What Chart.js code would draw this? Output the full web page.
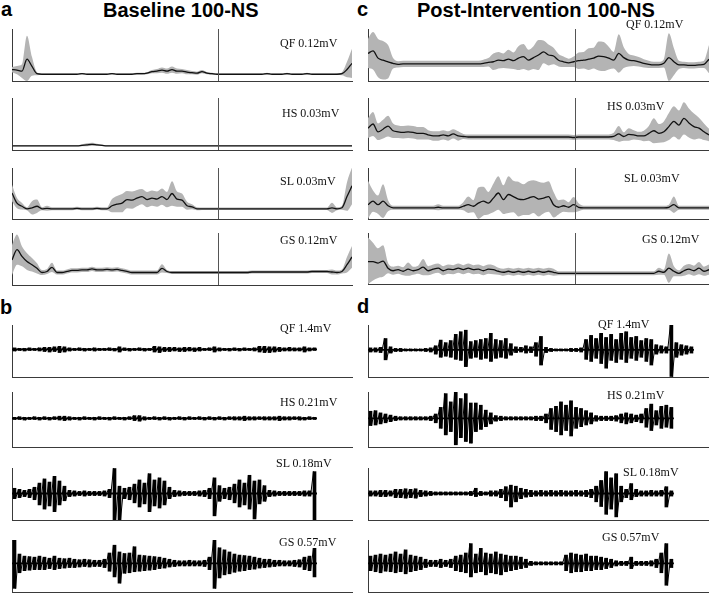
<!DOCTYPE html>
<html>
<head>
<meta charset="utf-8">
<script src="https://cdn.jsdelivr.net/npm/chart.js@4.4.1/dist/chart.umd.min.js"></script>
<style>
  html, body { margin: 0; padding: 0; background: #fff; }
  body { width: 709px; height: 593px; position: relative; overflow: hidden; }
  canvas { position: absolute; }
  .lbl { position: absolute; font-family: "Liberation Serif", "Times New Roman", serif; font-size: 12px; line-height: 12px; white-space: nowrap; color: #111; }
  .hd { position: absolute; font-family: "Liberation Sans", Arial, sans-serif; font-weight: bold; font-size: 20px; line-height: 20px; white-space: nowrap; color: #000; }
</style>
</head>
<body>
<div class="hd" style="left:1px;top:-1px">a</div>
<div class="hd" style="left:103px;top:0px">Baseline 100-NS</div>
<div class="hd" style="left:357px;top:-1px">c</div>
<div class="hd" style="left:417px;top:0px">Post-Intervention 100-NS</div>
<div class="hd" style="left:0px;top:297px">b</div>
<div class="hd" style="left:357px;top:296px">d</div>
<script>
// envelope panels (a = baseline, c = post-intervention), % of panel scale
const envLabels = ['QF 0.12mV', 'HS 0.03mV', 'SL 0.03mV', 'GS 0.12mV'];
const rawLabels = ['QF 1.4mV', 'HS 0.21mV', 'SL 0.18mV', 'GS 0.57mV'];
const splitAt = 41.2; // vertical marker on the envelope plots

const baseQfMean = [22,21,19,42,28,14,13,13,13,13, 13,13,13,13,14,13,13,13,13,13, 14,13,13,13,13,14,14,15,18,19, 21,19,22,19,19,17,16,15,18,15, 14,13,13,13,13,13,13,13,13,13, 13,14,13,13,13,14,13,13,13,14, 13,13,13,13,13,13,14,22,34];
const baseQfSd = [5,8,13,45,18,3,1,1,1,1, 1,1,1,1,1.5,1,1,1,1,1, 1.5,1,1,1,1.5,2,2,2,3,4, 5,5,6,5,4,4,3,3,3,2, 2,1.5,1,1,1,1,1,1,1,1, 1,2,1,1,1,2,1,1,1,2, 1,1,1,1,1,1.5,3,15,28];
const baseHsMean = [8,8,8,8,8,8,8,8,8,8, 8,8,8,8,9,10,11,10,9,8, 8,8,8,8,8,8,8,8,8,8, 8,8,8,8,8,8,8,8,8,8, 8,8,8,8,8,8,8,8,8,8, 8,8,8,8,8,8,8,8,8,8, 8,8,8,8,8,8,8,8,8];
const baseHsSd = [1,1,1,1,1,1,1,1,1,1, 1,1,1,1,2,3,3,2,1.5,1, 1,1,1,1,1,1,1,1,1,1, 1,1,1,1,1,1,1,1,1,1, 1,1,1,1,1,1,1,1,1,1, 1,1,1,1,1,1,1,1,1,1, 1,1,1,1,1,1,1,1,1];
const baseSlMean = [51,31,25,20,22,25,20,21,20,20, 20,20,20,21,20,20,20,21,20,20, 26,29,31,38,37,41,44,38,41,39, 44,38,50,39,37,26,24,20,20,20, 20,20,20,20,20,20,20,20,20,20, 20,20,20,20,20,20,20,20,20,20, 20,20,20,20,22,20,22,44,65];
const baseSlSd = [16,10,6.5,3,13,13,3,5,3,3, 3,3,3,3,3,3,3,3,3,3, 13,16,18,17,17,16,15,15,15,15, 16,15,24,15,13,8,5,3,2.5,2.5, 2.5,2.5,2.5,2.5,2.5,2.5,2.5,2.5,2.5,2.5, 2.5,2.5,2.5,2.5,2.5,2.5,2.5,2.5,2.5,2.5, 2.5,2.5,2.5,2.5,10,3,4,28,36];
const baseGsMean = [48,68,55,45,39,32,24,26,34,24, 24,26,28,28,29,29,31,29,29,30, 29,30,28,26,24,24,24,24,24,24, 32,26,24,24,24,24,24,24,24,24, 24,24,24,24,24,24,24,24,25,25, 25,25,25,25,25,25,25,25,25,25, 26,26,26,26,25,24,26,39,54];
const baseGsSd = [29,29,19,16,13,10,5,5,9,4, 4,4,4,4,4,4,4,4,4,4, 4,4,4,4,4,4,4,4,4,4, 8,3,3,3,3,3,3,3,3,3, 3,3,3,3,3,3,3,3,3,3, 3,3,3,3,3,3,3,3,3,3, 3,3,3,3,5,4,4,15,21];

const postQfMean = [53,58,44,40,37,34,32,33,33,33, 33,33,33,33,33,33,33,33,33,33, 33,33,33,34,36,37,40,39,42,39, 44,47,40,45,50,56,50,48,40,37, 35,37,39,40,42,44,48,47,44,40, 53,45,40,39,37,34,32,31,31,34, 45,37,31,31,30,30,31,32,42];
const postQfSd = [28,36,37,37,32,10,6,6,6,6, 6,6,6,6,6,6,6,6,6,6, 6,6,6,7,8,16,16,14,18,16, 23,24,20,22,29,22,20,16,12,10, 8,10,16,16,21,20,28,28,22,16, 37,20,12,10,9,8,7,6,6,8, 47,26,8,6,6,6,6,7,27];
const postHsMean = [42,50,35,40,46,37,35,34,35,34, 32,32,29,27,27,29,27,31,27,26, 25,25,25,25,25,25,25,25,25,25, 25,25,25,25,25,25,25,25,25,25, 25,24,25,25,25,25,25,25,25,26, 31,26,30,29,27,27,32,37,32,35, 45,55,48,61,52,45,42,35,29];
const postHsSd = [19,23,16,18,20,14,12,12,12,12, 12,12,9,9,9,9,9,9,9,5, 5,5,5,5,5,5,5,5,5,5, 5,5,5,5,5,5,5,5,5,5, 5,5,5,5,5,5,5,5,5,7, 15,8,12,9,8,10,14,24,18,20, 26,29,28,31,28,25,20,16,12];
const postSlMean = [28,35,28,35,26,22,22,22,22,22, 22,22,22,22,23,22,22,22,22,25, 28,25,31,35,31,41,51,38,48,44, 39,38,41,44,39,41,44,28,23,26, 23,28,23,22,22,22,22,22,22,22, 22,22,22,22,22,22,22,22,22,22, 23,28,22,22,22,22,22,22,22];
const postSlSd = [47,21,18,33,11,4,4,4,4,4, 4,4,4,4,6,4,4,4,4,8, 16,12,31,28,22,28,33,28,36,31, 34,30,33,32,34,30,30,25,14,12, 10,15,8,4,4,4,4,4,4,4, 4,4,4,4,4,4,4,4,4,4, 5,16,4,4,4,4,4,4,4];
const postGsMean = [44,44,41,45,31,26,28,25,29,26, 28,33,26,29,31,26,29,28,31,28, 31,28,29,26,29,28,25,23,25,23, 25,23,25,23,25,23,25,23,21,21, 21,21,21,21,21,21,21,21,21,21, 21,21,21,21,21,21,21,21,25,23, 31,25,21,26,29,26,31,25,28];
const postGsSd = [47,37,29,31,10,8,8,8,13,8, 8,16,9,9,9,9,9,9,9,9, 9,9,9,9,9,9,7,7,7,7, 7,7,7,7,7,7,7,7,4,4, 4,4,4,4,4,4,4,4,4,4, 4,4,4,4,4,4,4,4,7,5, 29,10,6,10,10,10,12,9,10];

// raw EMG panels (b = baseline, d = post-intervention): peak above / below the baseline per time bin
const rawBins = 68;
const rawBaseQfUp = [3,2,2,3,2,3,4,4,5,6, 5,3,2,3,2,2,3,2,2,3, 2,5,3,2,2,3,2,2,6,5, 4,4,4,3,4,4,3,4,2,3, 5,3,2,2,3,2,3,2,3,6, 6,5,5,4,3,4,3,3,5,3, 3];
const rawBaseQfDown = [3,2,3,2,2,3,4,5,4,6, 5,3,2,2,3,2,3,2,2,2, 3,5,2,3,2,2,3,2,5,6, 4,4,3,4,4,3,4,3,2,2, 5,3,2,3,2,3,2,2,3,5, 6,6,5,4,3,3,3,3,5,3, 2];
const rawBaseHsUp = [2,3,2,2,3,2,3,2,3,4, 4,3,2,2,3,2,2,3,2,2, 3,2,2,3,5,5,3,2,3,2, 3,2,2,3,2,3,2,3,2,3, 2,3,2,3,3,3,4,3,3,3, 3,3,3,4,3,3,3,3,2,3, 2];
const rawBaseHsDown = [2,2,3,2,2,3,2,3,2,3, 4,3,2,3,2,2,3,2,2,3, 2,2,3,2,4,5,3,2,2,3, 2,3,2,2,3,2,2,2,3,2, 3,2,3,2,3,3,4,3,3,2, 3,3,3,4,3,3,2,3,3,2, 2];
const rawBaseSlUp = [10,8,6,8,12,20,28,22,33,24, 14,6,5,4,5,4,4,4,5,8, 48,14,10,12,18,26,20,38,26,30, 24,12,6,5,4,4,4,5,6,10, 30,15,10,12,18,26,20,35,24,26, 15,6,5,4,4,4,4,4,5,5, 42];
const rawBaseSlDown = [10,8,6,8,12,22,30,24,35,22, 14,6,5,4,5,4,4,4,5,8, 51,51,10,12,18,26,20,35,24,28, 22,10,6,5,4,4,4,5,6,10, 43,15,10,12,18,26,22,30,49,20, 15,6,5,4,4,4,4,4,5,5, 51];
const rawBaseGsUp = [45,18,14,13,12,14,12,10,14,10, 9,10,8,7,8,7,6,6,8,20, 35,22,19,20,32,16,15,14,13,12, 10,8,6,5,5,6,5,5,6,12, 45,30,26,22,18,16,15,14,12,10, 8,8,6,6,5,5,6,7,12,14, 29];
const rawBaseGsDown = [48,18,14,13,12,12,12,10,12,10, 9,8,8,7,6,7,6,6,8,15, 26,38,19,18,16,15,14,13,12,10, 9,7,6,5,5,5,5,5,6,12, 48,28,22,20,17,15,14,12,11,9, 8,7,6,5,5,5,6,7,12,14, 26];

const rawPostQfUp = [4,4,5,22,6,3,3,2,2,2, 2,3,4,8,19,14,18,30,35,38, 16,18,20,22,32,20,18,22,12,6, 5,8,6,14,26,5,3,2,2,2, 3,3,4,20,28,22,32,24,30,20, 32,35,24,26,18,22,20,10,8,6, 48,14,10,8,6];
const rawPostQfDown = [4,4,5,19,6,3,3,2,2,2, 2,3,4,8,14,12,14,18,20,32, 16,14,18,16,22,16,14,16,10,5, 4,6,5,12,29,5,3,2,2,2, 3,3,4,18,22,16,26,35,20,24, 18,24,16,20,14,22,29,8,6,6, 51,14,10,8,6];
const rawPostHsUp = [13,14,10,8,6,4,3,3,3,3, 3,3,4,8,20,45,30,51,36,45, 28,28,24,15,10,5,4,3,3,3, 3,3,3,4,4,8,18,22,30,24, 32,20,18,14,10,5,4,4,4,5, 8,10,8,6,8,18,26,14,22,24, 20];
const rawPostHsDown = [13,12,10,8,6,4,3,3,3,3, 3,3,4,8,18,30,24,48,35,42, 45,24,20,15,10,5,4,3,3,3, 3,3,3,4,4,8,20,24,30,22, 32,18,15,12,10,5,4,4,4,5, 8,10,8,6,8,16,22,12,18,16, 18];
const rawPostSlUp = [5,5,6,6,5,8,8,9,8,9, 6,5,4,3,3,3,3,3,3,3, 4,10,4,3,5,5,8,13,16,14, 10,8,6,5,6,5,6,5,6,5, 5,6,5,6,8,14,25,42,30,38, 14,8,19,8,5,5,6,5,6,13, 5];
const rawPostSlDown = [5,5,6,6,5,8,8,9,8,9, 6,5,4,3,3,3,3,3,3,3, 4,6,4,3,5,5,8,14,26,16, 10,7,6,5,5,5,5,5,5,5, 5,5,5,6,8,16,25,40,30,45, 16,8,12,6,5,5,5,5,5,26, 5];
const rawPostGsUp = [14,16,18,16,18,22,18,26,16,14, 12,8,6,6,8,6,8,14,16,20, 38,18,29,20,18,22,18,16,14,14, 12,8,4,3,3,3,3,3,3,16, 20,18,16,18,14,14,12,10,8,5, 4,4,12,4,4,4,5,8,20,38, 8];
const rawPostGsDown = [14,16,18,15,16,18,16,20,16,14, 12,8,6,6,8,6,8,14,16,18, 26,18,16,22,18,20,22,16,14,12, 10,8,4,3,3,3,3,3,3,14, 18,16,16,14,14,12,12,10,8,5, 4,4,10,4,4,4,5,8,18,42, 8];

const axisColor = '#3a3a3a';
const bandColor = '#b4b4b4';

const splitLine = {
    id: 'splitLine',
    afterDatasetsDraw(chart) {
        const x = Math.round(chart.scales.x.getPixelForValue(splitAt)) + 0.5;
        const ctx = chart.ctx;
        ctx.save();
        ctx.strokeStyle = '#555';
        ctx.lineWidth = 1;
        ctx.beginPath();
        ctx.moveTo(x, chart.chartArea.top);
        ctx.lineTo(x, chart.chartArea.bottom);
        ctx.stroke();
        ctx.restore();
    }
};

const hiddenAxis = (extra) => Object.assign({
    display: true,
    grid: { display: false, drawTicks: false },
    ticks: { display: false },
    border: { display: true, color: axisColor, width: 1 }
}, extra);

const makeCanvas = (x, y, w, h) => {
    const c = document.createElement('canvas');
    const pad = 2;
    c.width = w + pad * 2;
    c.height = h + pad * 2;
    c.style.left = (x - pad) + 'px';
    c.style.top = (y - pad) + 'px';
    c.style.width = c.width + 'px';
    c.style.height = c.height + 'px';
    document.body.appendChild(c);
    return c;
};

const addLabel = (text, x, cy) => {
    const d = document.createElement('div');
    d.className = 'lbl';
    d.textContent = text;
    d.style.left = x + 'px';
    d.style.top = (cy - 6) + 'px';
    document.body.appendChild(d);
};

const commonOpts = {
    responsive: false,
    animation: false,
    layout: { padding: 2 },
    plugins: { legend: { display: false }, tooltip: { enabled: false } }
};

function envChart(p) {
    const pts = (arr) => arr.map((v, i) => ({ x: i, y: v }));
    const upper = p.mean.map((m, i) => m + p.sd[i]);
    const lower = p.mean.map((m, i) => Math.max(0, m - p.sd[i]));
    //first dataset is drawn on top, so the mean goes first
    new Chart(makeCanvas(p.x, p.y, p.w, p.h), {
        type: 'line',
        data: {
            datasets: [
                { data: pts(p.mean), borderColor: '#111', borderWidth: 1.3, pointRadius: 0, fill: false, cubicInterpolationMode: 'monotone' },
                { data: pts(upper), borderWidth: 0, borderColor: bandColor, pointRadius: 0, fill: '+1', backgroundColor: bandColor, cubicInterpolationMode: 'monotone' },
                { data: pts(lower), borderWidth: 0, borderColor: bandColor, pointRadius: 0, fill: false, cubicInterpolationMode: 'monotone' }
            ]
        },
        options: Object.assign({}, commonOpts, {
            scales: {
                x: hiddenAxis({ type: 'linear', min: 0, max: p.mean.length - 1 }),
                y: hiddenAxis({ min: 0, max: 100 })
            }
        }),
        plugins: [splitLine]
    });
    addLabel(p.label, p.lx, p.ly);
}

function rawChart(p) {
    //bins hold the positive and negative peaks; the trace joins them in time order
    const trace = [];
    p.up.forEach((u, i) => {
        trace.push({ x: i + 0.3, y: u });
        trace.push({ x: i + 0.7, y: -p.down[i] });
    });
    const bars = p.up.map((u, i) => ({ x: i + 0.5, y: [-p.down[i], u] }));
    new Chart(makeCanvas(p.x, p.y, p.w, p.h), {
        type: 'bar',
        data: {
            datasets: [
                { type: 'line', data: trace, borderColor: '#000', borderWidth: 1, pointRadius: 0, fill: false, tension: 0 },
                { type: 'line', data: [{ x: 0, y: 0 }, { x: p.up.length, y: 0 }], borderColor: '#000', borderWidth: 1.8, pointRadius: 0, fill: false },
                { type: 'bar', data: bars, backgroundColor: '#000', barThickness: 3, grouped: false }
            ]
        },
        options: Object.assign({}, commonOpts, {
            scales: {
                x: hiddenAxis({ type: 'linear', min: 0, max: rawBins, offset: false }),
                y: hiddenAxis({ min: p.top - 100, max: p.top })
            }
        })
    });
    addLabel(p.label, p.lx, p.ly);
}

// quadrant a
envChart({ x: 12, y: 29, w: 340, h: 52, mean: baseQfMean, sd: baseQfSd, label: envLabels[0], lx: 280, ly: 43 });
envChart({ x: 12, y: 98, w: 340, h: 52, mean: baseHsMean, sd: baseHsSd, label: envLabels[1], lx: 282, ly: 113 });
envChart({ x: 12, y: 168, w: 340, h: 51, mean: baseSlMean, sd: baseSlSd, label: envLabels[2], lx: 280, ly: 181 });
envChart({ x: 12, y: 233, w: 340, h: 52, mean: baseGsMean, sd: baseGsSd, label: envLabels[3], lx: 280, ly: 240 });
// quadrant c
envChart({ x: 368, y: 29, w: 341, h: 52, mean: postQfMean, sd: postQfSd, label: envLabels[0], lx: 626, ly: 24 });
envChart({ x: 368, y: 98, w: 341, h: 52, mean: postHsMean, sd: postHsSd, label: envLabels[1], lx: 607, ly: 106 });
envChart({ x: 368, y: 168, w: 341, h: 51, mean: postSlMean, sd: postSlSd, label: envLabels[2], lx: 624, ly: 178 });
envChart({ x: 368, y: 233, w: 341, h: 51, mean: postGsMean, sd: postGsSd, label: envLabels[3], lx: 642, ly: 239 });
// quadrant b
rawChart({ x: 12, y: 325, w: 340, h: 52, top: 47, up: rawBaseQfUp, down: rawBaseQfDown, label: rawLabels[0], lx: 280, ly: 328 });
rawChart({ x: 12, y: 392, w: 340, h: 55, top: 48, up: rawBaseHsUp, down: rawBaseHsDown, label: rawLabels[1], lx: 280, ly: 402 });
rawChart({ x: 12, y: 468, w: 340, h: 52, top: 49, up: rawBaseSlUp, down: rawBaseSlDown, label: rawLabels[2], lx: 276, ly: 463 });
rawChart({ x: 12, y: 540, w: 340, h: 52, top: 45, up: rawBaseGsUp, down: rawBaseGsDown, label: rawLabels[3], lx: 279, ly: 542 });
// quadrant d
rawChart({ x: 368, y: 325, w: 341, h: 52, top: 48, up: rawPostQfUp, down: rawPostQfDown, label: rawLabels[0], lx: 598, ly: 324 });
rawChart({ x: 368, y: 392, w: 341, h: 55, top: 48, up: rawPostHsUp, down: rawPostHsDown, label: rawLabels[1], lx: 607, ly: 395 });
rawChart({ x: 368, y: 468, w: 341, h: 52, top: 49, up: rawPostSlUp, down: rawPostSlDown, label: rawLabels[2], lx: 623, ly: 472 });
rawChart({ x: 368, y: 540, w: 341, h: 52, top: 45, up: rawPostGsUp, down: rawPostGsDown, label: rawLabels[3], lx: 602, ly: 537 });
</script>
</body>
</html>
